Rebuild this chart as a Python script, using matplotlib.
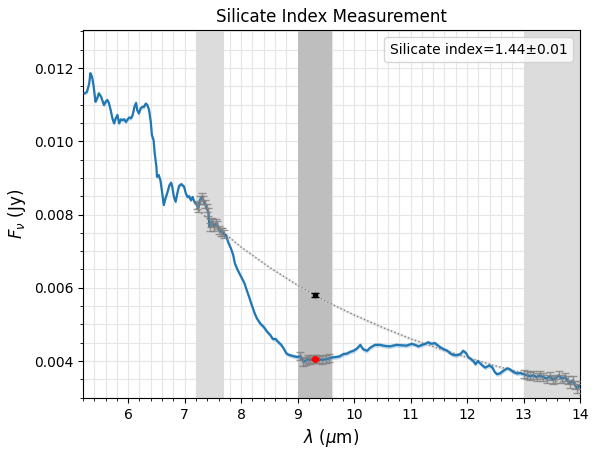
import numpy as np
import matplotlib
matplotlib.use("Agg")
import matplotlib.pyplot as plt
from matplotlib.ticker import MultipleLocator

# ---- data ----
wave = [5.23, 5.27, 5.31, 5.33, 5.36, 5.39, 5.42, 5.45, 5.48, 5.52, 5.54, 5.57, 5.60, 5.63, 5.66,
        5.69, 5.72, 5.75, 5.78, 5.81, 5.84, 5.87, 5.90, 5.93, 5.96, 5.99, 6.02, 6.05, 6.08, 6.11,
        6.14, 6.16, 6.19, 6.22, 6.25, 6.28, 6.31, 6.34, 6.37, 6.40, 6.42, 6.45, 6.47, 6.50, 6.51,
        6.54, 6.57, 6.60, 6.63, 6.66, 6.69, 6.73, 6.76, 6.78, 6.81, 6.84, 6.87, 6.90, 6.94, 6.99,
        7.02, 7.05, 7.08, 7.11, 7.14, 7.17, 7.22, 7.24, 7.27, 7.30, 7.33, 7.36, 7.39, 7.42, 7.44,
        7.47, 7.49, 7.52, 7.55, 7.58, 7.61, 7.64, 7.67, 7.70, 7.73, 7.77, 7.82, 7.86, 7.89, 7.94,
        8.00, 8.06, 8.10, 8.15, 8.19, 8.24, 8.28, 8.34, 8.40, 8.46, 8.52, 8.56, 8.61, 8.65, 8.71,
        8.75, 8.80, 8.84, 8.93, 8.99, 9.05, 9.10, 9.14, 9.18, 9.22, 9.27, 9.33, 9.38, 9.44, 9.50,
        9.56, 9.62, 9.69, 9.75, 9.81, 9.87, 9.93, 9.99, 10.05, 10.11, 10.16, 10.23, 10.29, 10.37,
        10.46, 10.55, 10.64, 10.69, 10.75, 10.84, 10.93, 11.02, 11.08, 11.14, 11.20, 11.26, 11.31,
        11.37, 11.43, 11.47, 11.53, 11.59, 11.65, 11.71, 11.77, 11.83, 11.89, 11.93, 11.98, 12.02,
        12.06, 12.11, 12.15, 12.19, 12.23, 12.27, 12.32, 12.36, 12.40, 12.45, 12.49, 12.53, 12.58,
        12.64, 12.71, 12.76, 12.82, 12.88, 12.94, 13.00, 13.06, 13.12, 13.17, 13.23, 13.29, 13.35,
        13.41, 13.47, 13.52, 13.56, 13.62, 13.68, 13.74, 13.78, 13.82, 13.87, 13.91, 13.95, 14.00]
flux = [0.01131, 0.01135, 0.01158, 0.01186, 0.01176, 0.01149, 0.01108, 0.01117, 0.01131, 0.01122,
        0.01113, 0.01099, 0.01108, 0.01113, 0.01104, 0.01085, 0.01063, 0.01049, 0.01063, 0.01072,
        0.01049, 0.01060, 0.01058, 0.01060, 0.01053, 0.01060, 0.01065, 0.01063, 0.01072, 0.01094,
        0.01105, 0.01085, 0.01076, 0.01090, 0.01094, 0.01094, 0.01103, 0.01099, 0.01085, 0.01053,
        0.01017, 0.01003, 0.00967, 0.00930, 0.00903, 0.00908, 0.00894, 0.00862, 0.00826, 0.00844,
        0.00858, 0.00880, 0.00887, 0.00876, 0.00848, 0.00835, 0.00858, 0.00878, 0.00883, 0.00876,
        0.00858, 0.00848, 0.00850, 0.00839, 0.00848, 0.00835, 0.00826, 0.00817, 0.00839, 0.00848,
        0.00839, 0.00830, 0.00817, 0.00807, 0.00766, 0.00776, 0.00780, 0.00766, 0.00776, 0.00771,
        0.00757, 0.00753, 0.00753, 0.00746, 0.00744, 0.00725, 0.00707, 0.00689, 0.00666, 0.00648,
        0.00630, 0.00612, 0.00593, 0.00571, 0.00552, 0.00530, 0.00516, 0.00502, 0.00493, 0.00480,
        0.00470, 0.00460, 0.00460, 0.00453, 0.00444, 0.00435, 0.00421, 0.00417, 0.00413, 0.00411,
        0.00413, 0.00398, 0.00401, 0.00405, 0.00403, 0.00405, 0.00405, 0.00405, 0.00403, 0.00405,
        0.00407, 0.00410, 0.00411, 0.00413, 0.00419, 0.00420, 0.00425, 0.00428, 0.00434, 0.00444,
        0.00432, 0.00428, 0.00437, 0.00444, 0.00444, 0.00441, 0.00440, 0.00442, 0.00444, 0.00443,
        0.00442, 0.00447, 0.00444, 0.00440, 0.00444, 0.00447, 0.00451, 0.00447, 0.00449, 0.00444,
        0.00437, 0.00432, 0.00428, 0.00420, 0.00416, 0.00416, 0.00420, 0.00428, 0.00422, 0.00411,
        0.00406, 0.00400, 0.00391, 0.00400, 0.00394, 0.00388, 0.00382, 0.00385, 0.00388, 0.00382,
        0.00370, 0.00364, 0.00366, 0.00373, 0.00380, 0.00377, 0.00370, 0.00366, 0.00367, 0.00364,
        0.00361, 0.00358, 0.00361, 0.00356, 0.00361, 0.00356, 0.00352, 0.00358, 0.00349, 0.00352,
        0.00361, 0.00352, 0.00356, 0.00347, 0.00338, 0.00347, 0.00334, 0.00325, 0.00334]
flux_err = 0.00006      # shaded uncertainty of the spectrum
band_err = 0.00011      # error bars shown inside the fit/measure windows

cont_wave = [7.2, 7.5, 8.0, 8.5, 9.0, 9.5, 10.0, 10.5, 11.0, 11.5, 12.0, 12.5, 13.0, 13.5, 14.0]
cont_flux = [0.00818, 0.00775, 0.00711, 0.00656, 0.00607, 0.00563, 0.00526, 0.00492,
             0.00461, 0.00434, 0.00410, 0.00387, 0.00367, 0.00348, 0.00331]
cont_err = 0.00004

fit_windows = [(7.2, 7.7), (13.0, 14.0)]
meas_window = (9.0, 9.6)

peak_wave = 9.3
cont_at_peak = 0.00580
cont_at_peak_err = 0.00005
flux_at_peak = 0.00405
flux_at_peak_err = 0.00003

label_text = "Silicate index=1.44±0.01"

# ---- figure ----
fig = plt.figure(figsize=(5.99, 4.58), dpi=100)
ax = fig.add_axes([83/599, 1-398/458, (580-83)/599, (398-30)/458])

ax.grid(True, which='both', color='#e6e6e6', lw=0.8, zorder=0)
ax.set_axisbelow(True)

for lo, hi in fit_windows:
    ax.axvspan(lo, hi, color='#dcdcdc', zorder=1, lw=0)
ax.axvspan(meas_window[0], meas_window[1], color='#bebebe', zorder=1, lw=0)

w = np.array(wave)
f = np.array(flux)
ax.fill_between(w, f - flux_err, f + flux_err, color='#1f77b4', alpha=0.25, lw=0, zorder=2)
ax.plot(w, f, color='#1f77b4', lw=1.6, zorder=3)

mask = np.zeros(len(w), bool)
for lo, hi in fit_windows + [meas_window]:
    mask |= (w >= lo) & (w <= hi)
ax.errorbar(w[mask], f[mask], yerr=band_err, fmt='none', ecolor='gray',
            elinewidth=1, capsize=3, alpha=0.8, zorder=4)

cw = np.array(cont_wave)
cf = np.array(cont_flux)
ax.fill_between(cw, cf - cont_err, cf + cont_err, color='lightgray', alpha=0.5, lw=0, zorder=2.5)
ax.plot(cw, cf, color='gray', ls=':', lw=1, zorder=2.6)

ax.errorbar([peak_wave], [cont_at_peak], yerr=[cont_at_peak_err], fmt='o', color='black',
            ms=3, capsize=3, zorder=5)
ax.errorbar([peak_wave], [flux_at_peak], yerr=[flux_at_peak_err], fmt='o', color='red',
            ms=4, capsize=3, zorder=5)

ax.plot([], [], ' ', label=label_text)
ax.legend(loc='upper right', handlelength=0, handletextpad=0, fontsize=10)

ax.set_xlim(5.2, 14.0)
ax.set_ylim(0.00299, 0.01304)
ax.xaxis.set_major_locator(MultipleLocator(1))
ax.xaxis.set_minor_locator(MultipleLocator(0.2))
ax.yaxis.set_major_locator(MultipleLocator(0.002))
ax.yaxis.set_minor_locator(MultipleLocator(0.0005))

ax.set_title("Silicate Index Measurement", fontsize=12)
ax.set_xlabel(r"$\lambda$ ($\mu$m)", fontsize=12)
ax.set_ylabel(r"$F_\nu$ (Jy)", fontsize=12)

fig.savefig("out.png", dpi=100)
